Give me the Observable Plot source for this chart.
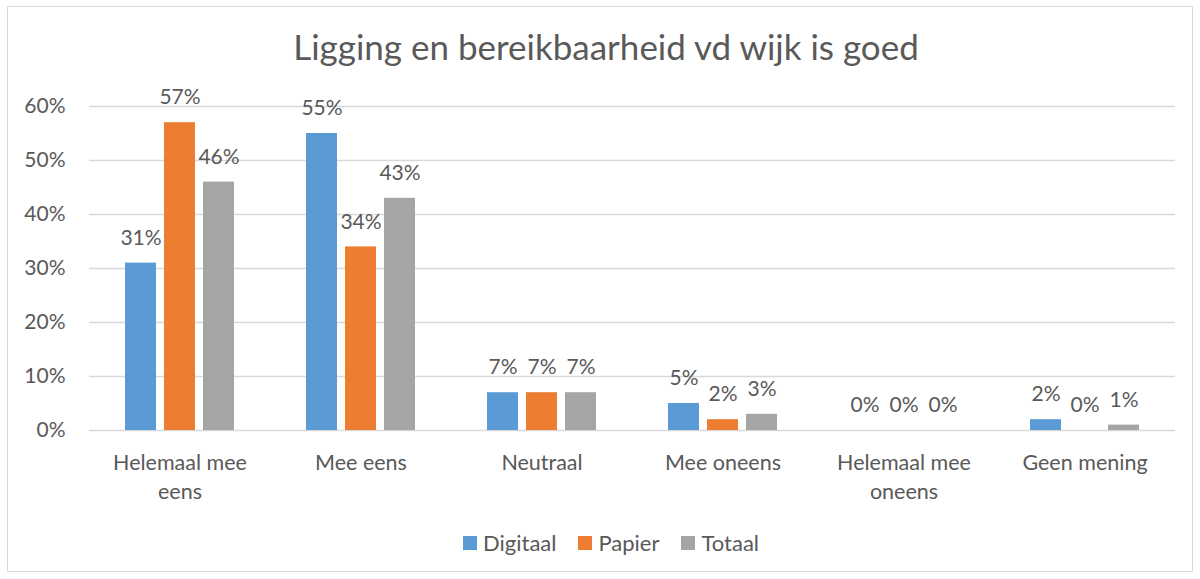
<!DOCTYPE html>
<html>
<head>
<meta charset="utf-8">
<script src="https://cdn.jsdelivr.net/npm/d3@7"></script>
<script src="https://cdn.jsdelivr.net/npm/@observablehq/plot@0.6"></script>
<style>
  html, body { margin: 0; padding: 0; background: #fff; }
  #wrap { position: relative; width: 1200px; height: 579px; overflow: hidden; font-family: Lato, "Open Sans", sans-serif; color: #595959; }
  #frame { position: absolute; left: 7px; top: 6px; width: 1184px; height: 564px; border: 1px solid #d9d9d9; }
  #chart { position: absolute; left: 0; top: 0; }
  #title { position: absolute; left: 0; width: 1212px; top: 26px; text-align: center; font-size: 35px; line-height: 40px; }
  #legend { position: absolute; left: 0; width: 1222px; top: 530px; display: flex; justify-content: center; gap: 22px; font-size: 22px; line-height: 26px; }
  #legend span.item { display: flex; align-items: center; gap: 6px; }
  #legend span.sw { width: 14px; height: 14px; display: inline-block; }
</style>
</head>
<body>
<div id="wrap">
  <div id="frame"></div>
  <div id="chart"></div>
  <div id="title">Ligging en bereikbaarheid vd wijk is goed</div>
  <div id="legend"></div>
</div>
<script>
// Answer categories along the x axis
const categories = ["Helemaal mee eens", "Mee eens", "Neutraal", "Mee oneens", "Helemaal mee oneens", "Geen mening"];
// Axis labels, wrapped as they appear under the groups
const categoryLabels = ["Helemaal mee\neens", "Mee eens", "Neutraal", "Mee oneens", "Helemaal mee\noneens", "Geen mening"];
// Series and their colours
const series = ["Digitaal", "Papier", "Totaal"];
const colors = ["#5B9BD5", "#ED7D31", "#A5A5A5"];
// Percentages per series, in category order
const digitaal = [31, 55, 7, 5, 0, 2];
const papier = [57, 34, 7, 2, 0, 0];
const totaal = [46, 43, 7, 3, 0, 1];
// Y axis ticks
const yTicks = [0, 10, 20, 30, 40, 50, 60];

const valuesBySeries = {Digitaal: digitaal, Papier: papier, Totaal: totaal};
const rows = [];
categories.forEach((c, i) => {
  series.forEach(s => rows.push({category: c, series: s, value: valuesBySeries[s][i]}));
});
const labelOf = Object.fromEntries(categories.map((c, i) => [c, categoryLabels[i]]));

const textColor = "#595959";
const plot = Plot.plot({
  width: 1200,
  height: 579,
  marginLeft: 88,
  marginRight: 24,
  marginTop: 106,
  marginBottom: 149,
  style: {fontFamily: "Lato, 'Open Sans', sans-serif", color: textColor, background: "transparent"},
  fx: {domain: categories, padding: 0, label: null},
  x: {domain: series, paddingInner: 0.2, paddingOuter: 0.867, axis: null},
  y: {domain: [0, 60], label: null},
  color: {domain: series, range: colors},
  marks: [
    Plot.gridY(yTicks, {stroke: "#d9d9d9", strokeOpacity: 1, strokeWidth: 1.3}),
    Plot.axisY(yTicks, {tickSize: 0, tickPadding: 24, fontSize: 21, tickFormat: d => d + "%", fill: textColor}),
    Plot.axisFx({anchor: "bottom", tickSize: 0, tickPadding: 19, fontSize: 21.5, lineHeight: 1.35, fill: textColor, tickFormat: d => labelOf[d]}),
    Plot.barY(rows, {fx: "category", x: "series", y: "value", fill: "series"}),
    Plot.text(rows, {fx: "category", x: "series", y: "value", text: d => d.value + "%", dy: -25, fontSize: 21, fill: textColor})
  ]
});
document.getElementById("chart").appendChild(plot);

const legend = document.getElementById("legend");
series.forEach((s, i) => {
  const item = document.createElement("span");
  item.className = "item";
  item.innerHTML = `<span class="sw" style="background:${colors[i]}"></span><span>${s}</span>`;
  legend.appendChild(item);
});
</script>
</body>
</html>
